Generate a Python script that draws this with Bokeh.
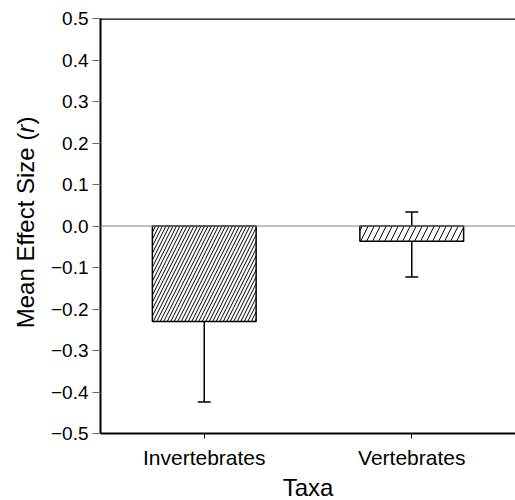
import math
from bokeh.plotting import figure
from bokeh.layouts import row
from bokeh.models import (FactorRange, Range1d, FixedTicker, CustomJSTickFormatter,
                          Span, Whisker, ColumnDataSource, Label, TeeHead)
from bokeh.embed import file_html
from bokeh.resources import INLINE

# ---- data ----
taxa = ["Invertebrates", "Vertebrates"]
mean_r = [-0.230, -0.037]
ci_lower = [-0.424, -0.123]
ci_upper = [-0.034, 0.034]
y_ticks = [-0.5, -0.4, -0.3, -0.2, -0.1, 0.0, 0.1, 0.2, 0.3, 0.4, 0.5]

# ---- styles ----
hatch_scales = [7.0, 12.0]
FONT = "Liberation Sans"
LEFT_W = 45

yr = Range1d(-0.5, 0.5)

p = figure(x_range=FactorRange(*taxa), y_range=yr,
           frame_width=415, frame_height=415,
           min_border_left=100 - LEFT_W, min_border_right=0, min_border_top=18,
           min_border_bottom=67, output_backend="svg", toolbar_location=None)
p.outline_line_color = None
p.xgrid.grid_line_color = None
p.ygrid.grid_line_color = None
p.background_fill_color = "white"
p.border_fill_color = "white"

# zero reference line
p.add_layout(Span(location=0, dimension="width", line_color="#808080", line_width=1))

for i in range(len(taxa)):
    p.vbar(x=[taxa[i]], top=[mean_r[i]], bottom=0, width=0.5,
           fill_color="white", line_color="black", line_width=1.5,
           hatch_pattern="/", hatch_scale=hatch_scales[i], hatch_weight=1,
           hatch_color="black")

src = ColumnDataSource(dict(x=taxa, lower=ci_lower, upper=ci_upper))
p.add_layout(Whisker(base="x", lower="lower", upper="upper", source=src,
                     line_color="black", line_width=1.5,
                     upper_head=TeeHead(size=13, line_width=1.5, line_color="black"),
                     lower_head=TeeHead(size=13, line_width=1.5, line_color="black")))

# top border line
p.add_layout(Span(location=0.5, dimension="width", line_color="black", line_width=2.5))

# x axis
xa = p.xaxis[0]
xa.axis_line_width = 2
xa.axis_line_color = "black"
xa.major_tick_out = 5
xa.major_tick_in = 0
xa.major_tick_line_color = "black"
xa.major_label_text_font = FONT
xa.major_label_text_font_size = "21px"
xa.major_label_text_color = "black"
xa.major_label_standoff = 7
xa.axis_label = "Taxa"
xa.axis_label_text_font = FONT
xa.axis_label_text_font_size = "24px"
xa.axis_label_text_font_style = "normal"
xa.axis_label_text_color = "black"
xa.axis_label_standoff = 2

# y axis
ya = p.yaxis[0]
ya.ticker = FixedTicker(ticks=y_ticks)
ya.formatter = CustomJSTickFormatter(
    code="return (tick < -1e-9 ? '\u2212' : '') + Math.abs(tick).toFixed(1);")
ya.minor_tick_line_color = None
ya.axis_line_width = 2
ya.axis_line_color = "black"
ya.major_tick_out = 8
ya.major_tick_in = 0
ya.major_tick_line_color = "#666666"
ya.major_label_text_font = FONT
ya.major_label_text_font_size = "19px"
ya.major_label_text_color = "black"
ya.major_label_standoff = 4

# narrow figure holding the y-axis title (with italic r)
t = figure(x_range=Range1d(0, LEFT_W), y_range=yr,
           frame_width=LEFT_W, frame_height=415,
           min_border_left=0, min_border_right=0, min_border_top=18,
           min_border_bottom=67, output_backend="svg", toolbar_location=None)
t.axis.visible = False
t.grid.visible = False
t.outline_line_color = None
t.background_fill_color = "white"
t.border_fill_color = "white"

ang = math.pi / 2
lx = 25
y0 = 0.225
t.add_layout(Label(x=lx, y=y0, angle=ang,
                   text="Mean Effect Size (", text_align="right", text_baseline="middle",
                   text_font=FONT, text_font_size="24px", text_color="black"))
t.add_layout(Label(x=lx, y=y0, angle=ang,
                   text="r", text_align="left", text_baseline="middle",
                   text_font=FONT, text_font_size="24px", text_font_style="italic",
                   text_color="black"))
t.add_layout(Label(x=lx, y=y0 + 0.0193, angle=ang,
                   text=")", text_align="left", text_baseline="middle",
                   text_font=FONT, text_font_size="24px", text_color="black"))

layout = row(t, p, spacing=0)
open("out.html", "w").write(file_html(layout, INLINE))
